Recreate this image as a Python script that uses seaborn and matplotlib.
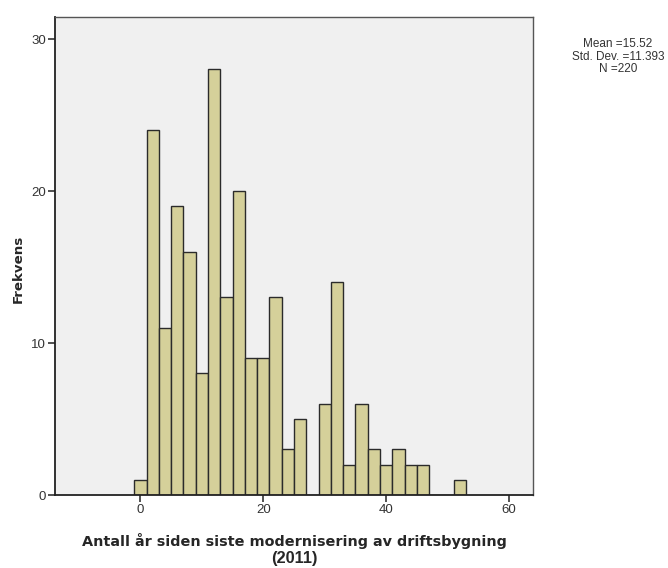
import matplotlib
matplotlib.use("Agg")
import matplotlib.pyplot as plt
import pandas as pd
import seaborn as sns

# Histogram bins (width 2, centred on even years) and their frequencies
bin_centers = [0, 2, 4, 6, 8, 10, 12, 14, 16, 18, 20, 22, 24, 26, 28,
               30, 32, 34, 36, 38, 40, 42, 44, 46, 48, 50, 52]
frequencies = [1, 24, 11, 19, 16, 8, 28, 13, 20, 9, 9, 13, 3, 5, 0,
               6, 14, 2, 6, 3, 2, 3, 2, 2, 0, 0, 1]
x_ticks = [0, 20, 40, 60]
y_ticks = [0, 10, 20, 30]
stats_lines = ["Mean =15.52", "Std. Dev. =11.393", "N =220"]

df = pd.DataFrame({"years": bin_centers, "count": frequencies})

sns.set_style("white")
plt.rcParams["font.family"] = ["Liberation Sans", "DejaVu Sans"]

fig = plt.figure(figsize=(6.68, 5.68), dpi=100)
ax = fig.add_axes([55 / 668, 73 / 568, 478 / 668, 478 / 568])
ax.set_facecolor("#f0f0f0")

sns.histplot(data=df, x="years", weights="count", binwidth=2,
             binrange=(-1, 53), color="#d5d09a", edgecolor="#2b2b2b",
             linewidth=1.0, alpha=1.0, ax=ax)

ax.set_xlim(-13.9, 63.9)
ax.set_ylim(0, 31.45)
ax.set_xticks(x_ticks)
ax.set_yticks(y_ticks)
ax.tick_params(axis="both", direction="out", length=5, width=1.2,
               bottom=True, left=True, color="#333333", labelsize=9.5,
               labelcolor="#333333", pad=1.5)

for side in ["left", "bottom"]:
    ax.spines[side].set_color("#222222")
    ax.spines[side].set_linewidth(1.3)
for side in ["top", "right"]:
    ax.spines[side].set_color("#555555")
    ax.spines[side].set_linewidth(1.0)

ax.set_ylabel("")
ax.set_xlabel("")
fig.text(18 / 668, 1 - 269 / 568, "Frekvens", rotation=90,
         ha="center", va="center", fontsize=9.6, fontweight="bold",
         family="DejaVu Sans")
fig.text(294 / 668, 1 - 541 / 568,
         "Antall år siden siste modernisering av driftsbygning",
         ha="center", va="center", fontsize=10.35, fontweight="bold",
         family="DejaVu Sans")
fig.text(294 / 668, 1 - 558 / 568, "(2011)", ha="center", va="center",
         fontsize=11.8, fontweight="bold")

for i, line in enumerate(stats_lines):
    fig.text(618 / 668, 1 - (44 + 12.5 * i) / 568, line, ha="center",
             va="center", fontsize=8.5, color="#333333")

fig.savefig("out.png", dpi=100)
